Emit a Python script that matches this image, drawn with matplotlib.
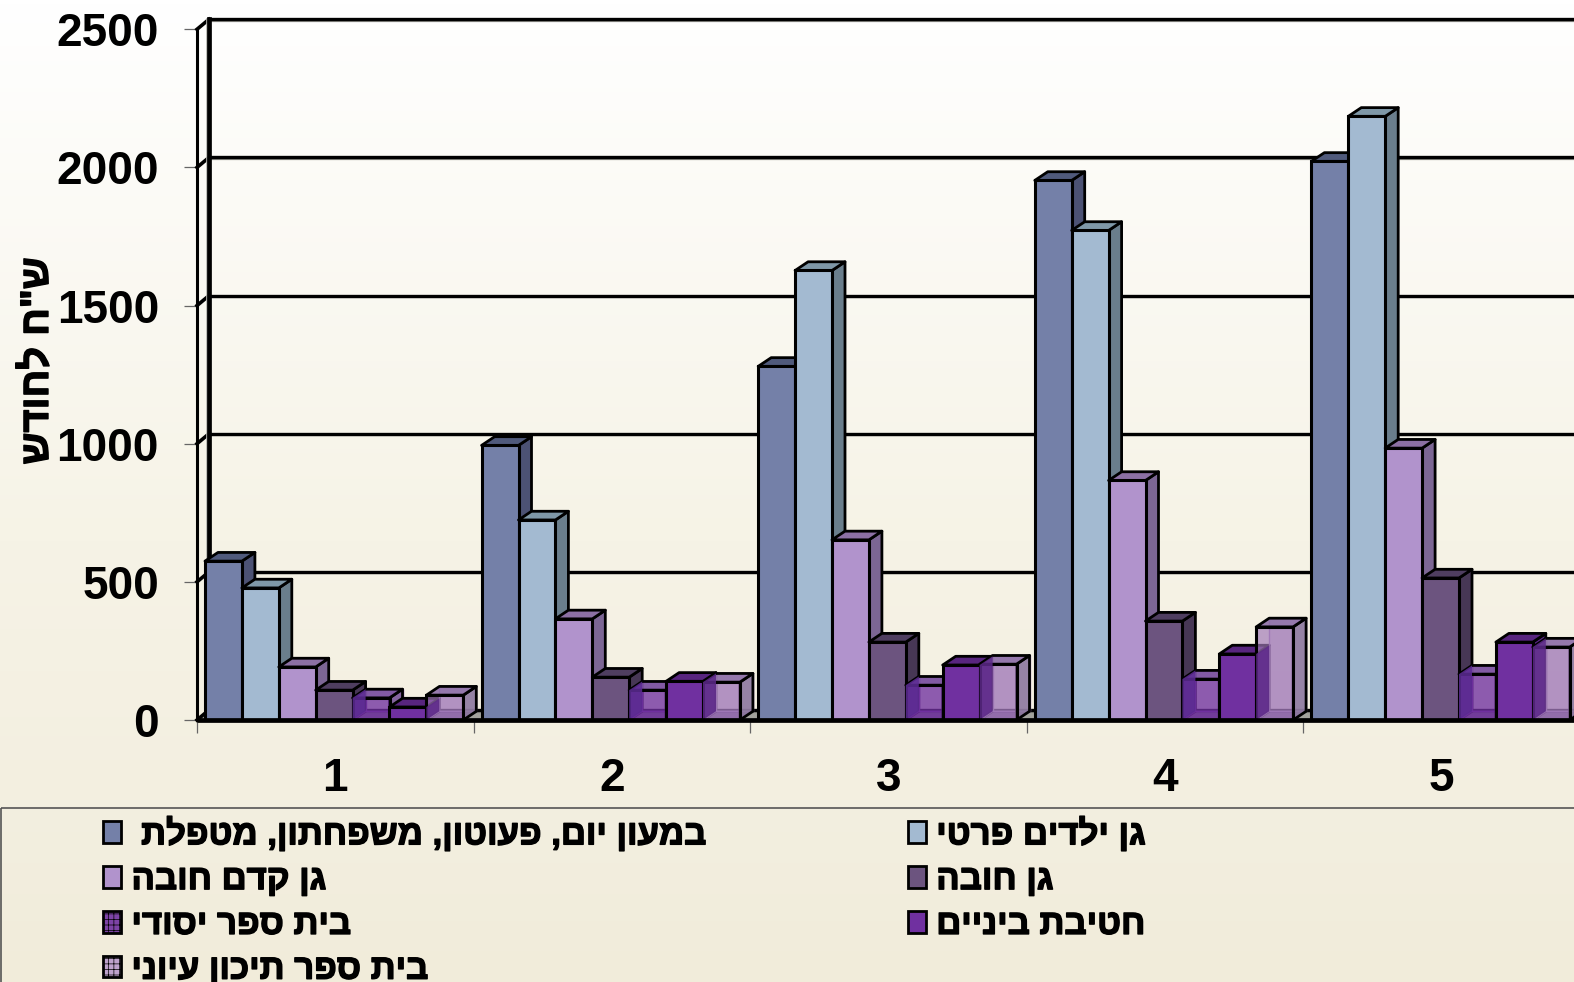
import numpy as np
import matplotlib
matplotlib.use("Agg")
import matplotlib.pyplot as plt
import matplotlib.patheffects as pe
from matplotlib.patches import Polygon, Rectangle, Patch
from matplotlib.colors import to_rgba, LinearSegmentedColormap

W, H = 1574, 982
FONT = "Liberation Sans"
plt.rcParams["font.family"] = [FONT, "DejaVu Sans"]
plt.rcParams["hatch.linewidth"] = 0.5


def rtl(s):
    # matplotlib lays text out left to right, so Hebrew is given in visual order
    return s[::-1]


categories = ["1", "2", "3", "4", "5"]
y_ticks = [0, 500, 1000, 1500, 2000, 2500]
y_title = 'ש"ח לחודש'

s_daycare = [575, 994, 1280, 1953, 2022]
s_private = [478, 724, 1627, 1772, 2185]
s_prek = [192, 366, 652, 867, 984]
s_kinder = [108, 155, 282, 358, 514]
s_primary = [80, 108, 126, 148, 166]
s_middle = [47, 140, 199, 239, 282]
s_high = [90, 137, 202, 337, 264]

names = [
    "במעון יום, פעוטון, משפחתון, מטפלת\u00a0",
    "גן ילדים פרטי",
    "גן קדם חובה",
    "גן חובה",
    "בית ספר יסודי",
    "חטיבת ביניים",
    "בית ספר תיכון עיוני",
]
values = [s_daycare, s_private, s_prek, s_kinder, s_primary, s_middle, s_high]
front = ["#7480A8", "#A3BAD1", "#B193CC", "#6C547F", "#7030A0", "#7030A0", "#A078B8"]
side = ["#4C5274", "#6A7E8C", "#7C6694", "#473755", "#7D5A9A", "#5A2585", "#8F7BA0"]
top = ["#505A7C", "#7F98A8", "#8C70A4", "#4F3E60", "#7A50A0", "#58257F", "#8E6FA8"]
alpha = [1, 1, 1, 1, 0.68, 1, 0.68]
hatches = [None, None, None, None, "+++", None, "+++"]
legend_colors = ["#7480A8", "#A3BAD1", "#B193CC", "#6C547F", "#7030A0", "#7030A0", "#B99ACB"]
legend_order = [0, 2, 4, 6, 1, 3, 5]
inner_band = {4: "#5E2C96", 6: "#5E2A8A"}

fig = plt.figure(figsize=(W / 100, H / 100), dpi=100)

# page background
bg = fig.add_axes([0, 0, 1, 1], zorder=0)
cm = LinearSegmentedColormap.from_list(
    "page", [(0, "#FFFFFF"), (0.55, "#F6F3E6"), (0.82, "#F3EFE0"), (1, "#F1ECDA")])
bg.imshow(np.linspace(0, 1, 256)[:, None], aspect="auto", cmap=cm, extent=(0, W, H, 0))
bg.set_xlim(0, W)
bg.set_ylim(H, 0)
bg.axis("off")
bg.add_patch(Rectangle((0.5, 808), W, 200, fc="none", ec="#555555", lw=1.2))

# plot area: front plane of the 3-D box
x0_px, y0_px, ytop_px, cat_px = 197, 720, 29.3, 276.6
ax = fig.add_axes([x0_px / W, (H - y0_px) / H, (W - x0_px) / W, (y0_px - ytop_px) / H], zorder=1)
ax.patch.set_alpha(0)
xmax = 0.5 + (W - x0_px) / cat_px
ax.set_xlim(0.5, xmax)
ax.set_ylim(0, 2500)
for sp in ax.spines.values():
    sp.set_visible(False)

upp = 2500 / (y0_px - ytop_px)  # value units per pixel
wall_dx, wall_dy = 12 / cat_px, 10 * upp
bar_dx, bar_dy = 13 / cat_px, 8.7 * upp
bar_w, bar_off = 36.9 / cat_px, 8 / cat_px

# floor and walls
ax.add_patch(Polygon([(0.5, 0), (0.5 + wall_dx, wall_dy), (xmax, wall_dy), (xmax, 0)],
                     fc="#A3A39D", ec="none", zorder=1))
for t in y_ticks:
    yy = t + wall_dy
    ax.plot([0.5 + wall_dx, xmax], [yy - 1.6 * upp] * 2, color="#8F8F88", lw=1.6, zorder=2, clip_on=False)
    ax.plot([0.5 + wall_dx, xmax], [yy, yy], color="black", lw=2.4, zorder=2.1, clip_on=False)
    ax.plot([0.5, 0.5 + wall_dx], [t, yy], color="black", lw=2.6, zorder=2.2, clip_on=False)
ax.plot([0.5, 0.5], [0, 2500], color="black", lw=2.2, zorder=3, clip_on=False)
ax.plot([0.5 + wall_dx - 2 / cat_px] * 2, [wall_dy, 2500 + wall_dy], color="#B5B5B0", lw=1.2, zorder=3, clip_on=False)
ax.plot([0.5 + wall_dx] * 2, [wall_dy, 2500 + wall_dy], color="black", lw=3.4, zorder=3.1, clip_on=False)

# bars, left to right so each one hides the side of the one before
z = 10
for i, cat in enumerate(categories):
    for j, series in enumerate(values):
        v = series[i]
        x = i + 1 - 0.5 + bar_off + j * bar_w
        r = x + bar_w
        a = alpha[j]
        if a < 1:
            # see-through box: back wall and floor
            ax.add_patch(Polygon([(x + bar_dx, bar_dy), (r + bar_dx, bar_dy), (r + bar_dx, v + bar_dy), (x + bar_dx, v + bar_dy)],
                                 fc=to_rgba(front[j], a * 0.45), ec=to_rgba(front[j], 0.9), lw=1.0, zorder=z))
            ax.add_patch(Polygon([(x, 0), (r, 0), (r + bar_dx, bar_dy), (x + bar_dx, bar_dy)],
                                 fc=to_rgba("#5A2585", 0.6), ec=to_rgba(front[j], 0.9), lw=1.0, zorder=z))
        ax.add_patch(Polygon([(r, 0), (r + bar_dx, bar_dy), (r + bar_dx, v + bar_dy), (r, v)],
                             fc=to_rgba(side[j], 0.9 if a < 1 else 1), ec="black", lw=2.0, zorder=z + 0.1, joinstyle="round"))
        ax.add_patch(Polygon([(x, v), (r, v), (r + bar_dx, v + bar_dy), (x + bar_dx, v + bar_dy)],
                             fc=to_rgba(top[j], 0.9 if a < 1 else 1), ec="black", lw=2.0, zorder=z + 0.2, joinstyle="round"))
        ax.bar(x, v, width=bar_w, align="edge", facecolor=to_rgba(front[j], a), edgecolor="black", linewidth=2.2, zorder=z + 0.3)
        if j in inner_band:
            # side of the previous, opaque bar seen through the front face
            h = min(v, values[j - 1][i])
            ax.add_patch(Polygon([(x, 0), (x + bar_dx, bar_dy), (x + bar_dx, h + bar_dy), (x, h)],
                                 fc=to_rgba(inner_band[j], 0.85), ec="none", zorder=z + 0.35))
        z += 1

ax.plot([0.5, xmax], [0, 0], color="black", lw=3.4, zorder=z, clip_on=False, solid_capstyle="butt")

# axes ticks and labels
ax.set_yticks(y_ticks)
ax.set_yticklabels([str(t) for t in y_ticks], fontsize=33, fontweight="bold", family=FONT)
ax.tick_params(axis="y", length=9.4, width=0.9, color="#666666", pad=18)
ax.set_xticks(np.arange(0.5, len(categories), 1))
ax.set_xticklabels([])
ax.tick_params(axis="x", which="major", length=9.4, width=0.9, color="#666666")
ax.set_xticks(np.arange(1, len(categories) + 1), minor=True)
ax.set_xticklabels(categories, minor=True, fontsize=33, fontweight="bold", family=FONT)
ax.tick_params(axis="x", which="minor", length=0, pad=26.5)
ax.set_xlim(0.5, xmax)
embolden = [pe.withStroke(linewidth=1.0, foreground="black")]
yl = ax.set_ylabel(rtl(y_title), fontsize=28.6, fontweight="bold", family=FONT, rotation=90, va="center", ha="center")
yl.set_path_effects(embolden)
ax.yaxis.set_label_coords((37 - x0_px) / (W - x0_px), (y0_px - 361) / (y0_px - ytop_px))

# legend
handles = [Patch(facecolor=legend_colors[k] if not hatches[k] else to_rgba(legend_colors[k], 0.9), edgecolor="black", linewidth=2.0,
                 hatch=hatches[k]) for k in legend_order]
labels = [rtl(names[k]) for k in legend_order]
leg = fig.legend(handles, labels, ncol=2, loc="upper left",
                 bbox_to_anchor=(103 / W, (H - 816) / H), frameon=False,
                 prop={"family": FONT, "weight": "bold", "size": 25},
                 handlelength=0.53, handleheight=0.58, handletextpad=0.29,
                 labelspacing=0.34, columnspacing=5.79, borderpad=0, borderaxespad=0)
for t in leg.get_texts():
    t.set_path_effects(embolden)

fig.savefig("out.png", dpi=100)
